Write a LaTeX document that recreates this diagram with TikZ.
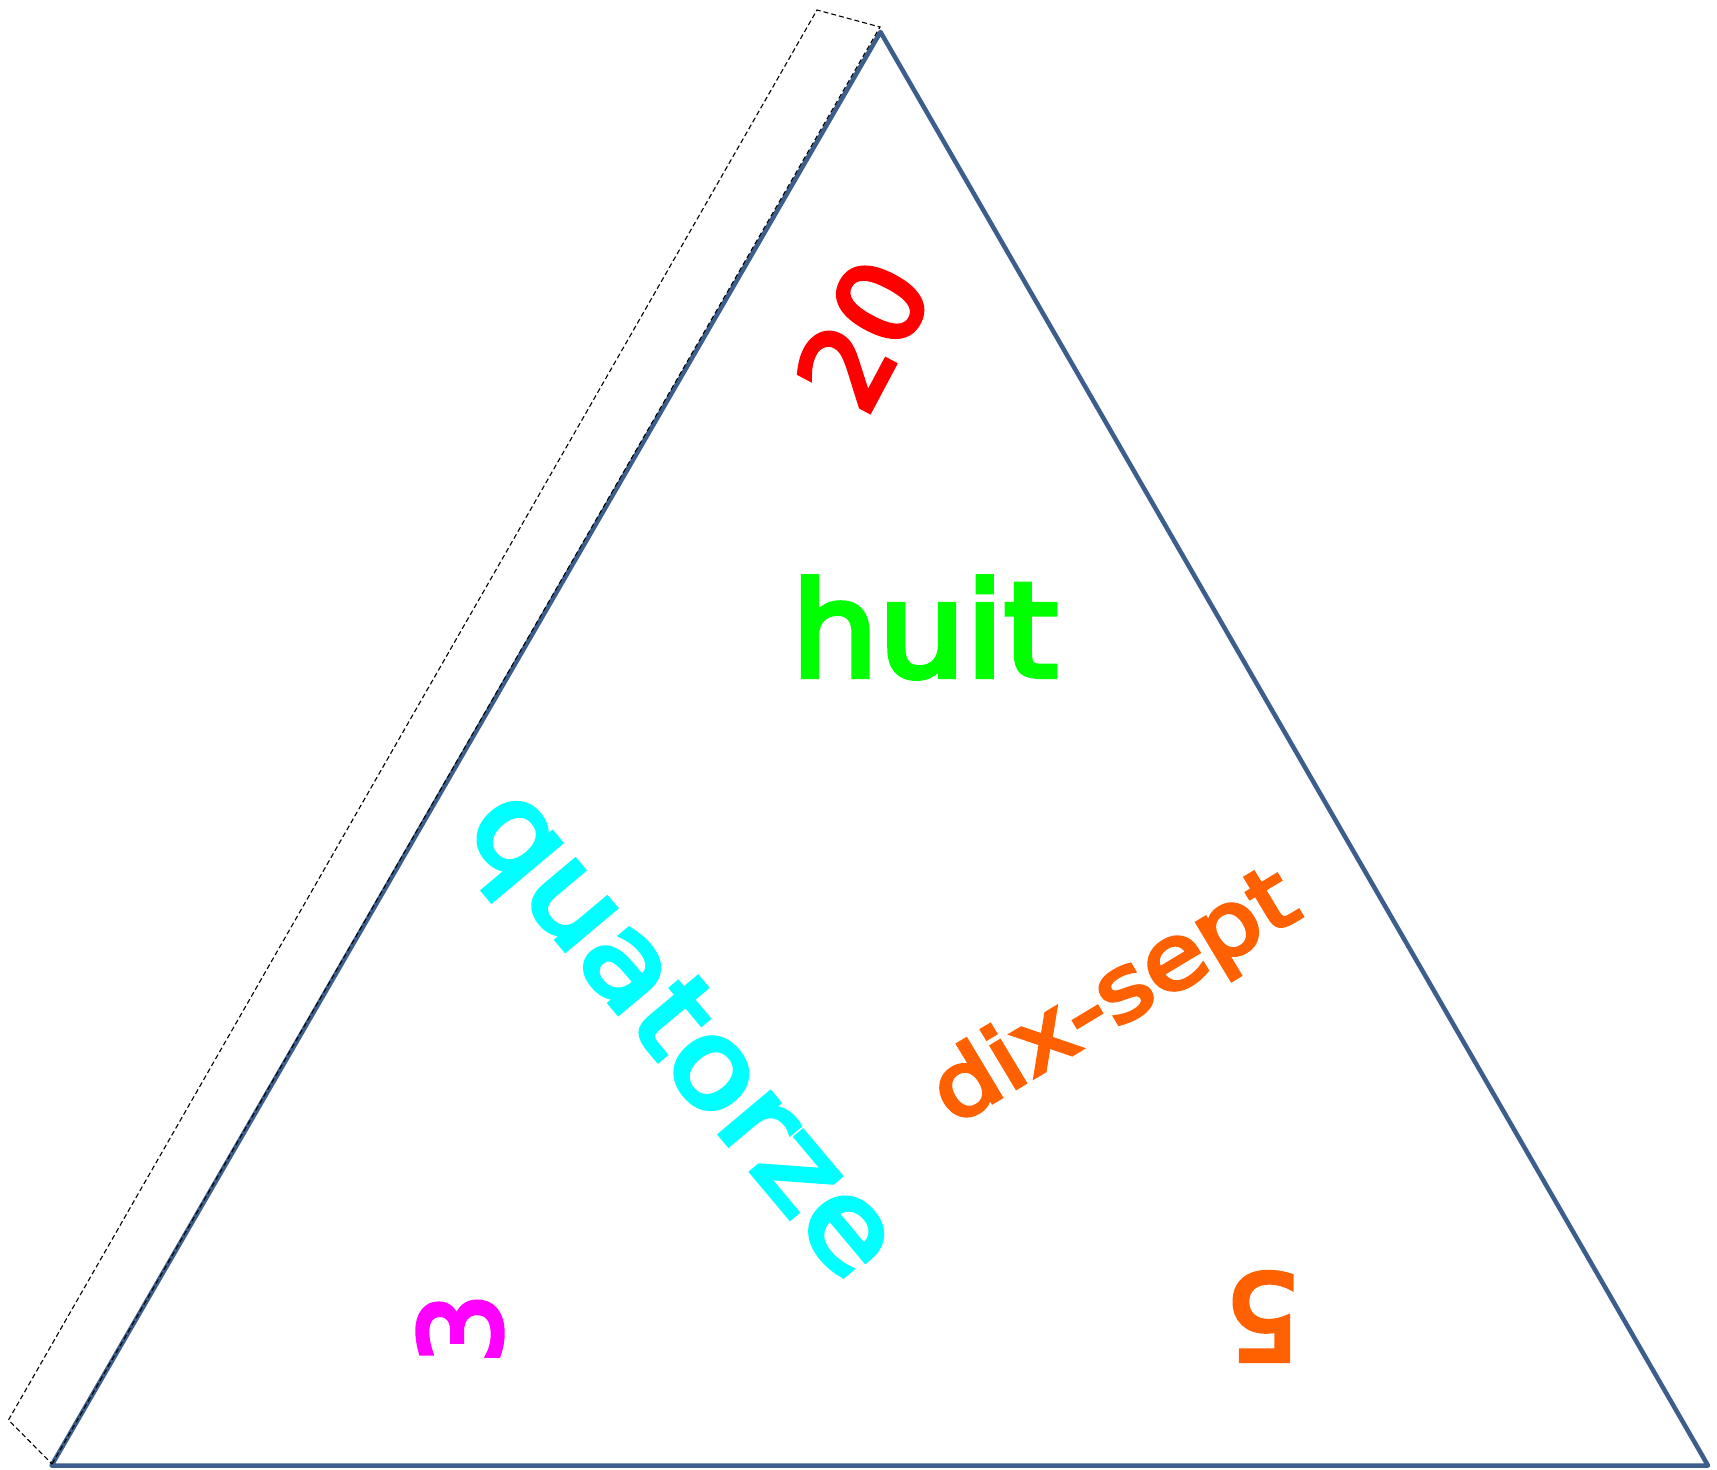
\documentclass[tikz,border=0pt]{standalone}
\usepackage{fontspec}
\usepackage{graphicx}
\setmainfont{DejaVu Sans}
\font\fhuit="DejaVu Sans:embolden=4.2" at 131pt
\font\fvingt="DejaVu Sans:embolden=4.2" at 115pt
\font\ftrois="DejaVu Sans:embolden=4.2" at 112pt
\font\fcinq="DejaVu Sans:embolden=4.2" at 119pt
\font\fdix="DejaVu Sans:embolden=4.2" at 89pt
\font\fquat="DejaVu Sans:embolden=4.2" at 119pt
\definecolor{edgeblue}{RGB}{59,94,140}
\definecolor{orng}{RGB}{255,96,0}
\definecolor{pred}{RGB}{255,0,0}
\definecolor{pgreen}{RGB}{0,255,0}
\definecolor{pcyan}{RGB}{0,255,255}
\definecolor{pmag}{RGB}{255,0,255}
\begin{document}
\begin{tikzpicture}[x=1pt,y=-1pt,
  lbl/.style={inner sep=0pt, outer sep=0pt},
  edge/.style={draw=edgeblue, line width=4.5pt, line join=round},
  frame/.style={draw=black, line width=1.1pt, dash pattern=on 5pt off 3pt}]
\useasboundingbox (0,0) rectangle (1717,1470);
\coordinate (A) at (880.5,32);
\coordinate (B) at (51.5,1465.5);
\coordinate (C) at (1708,1465.5);
\draw[edge] (A) -- (B) -- (C) -- cycle;
\coordinate (F1) at (52,1464);
\coordinate (F2) at (880,27);
\coordinate (F3) at (817,10);
\coordinate (F4) at (8.5,1420);
\draw[frame] (F1) -- (F2) -- (F3) -- (F4) -- cycle;
\node[lbl, text=pgreen] (huit) at (924.5,627.5) {\fhuit\scalebox{1.05}[1]{huit}};
\node[lbl, text=pred, rotate=62] (vingt) at (863,334.5) {\fvingt 20};
\node[lbl, text=pmag, rotate=90] (trois) at (460,1328.5) {\ftrois 3};
\node[lbl, text=orng, rotate=180] (cinq) at (1262.5,1316.5) {\fcinq 5};
\node[lbl, text=orng, rotate=31] (dixsept) at (1116,999.5) {\fdix\scalebox{1.14}[1]{dix-sept}};
\node[lbl, text=pcyan, rotate=-50] (quatorze) at (677.7,1037.9) {\fquat\scalebox{1.13}[1]{quatorze}};
\end{tikzpicture}
\end{document}
